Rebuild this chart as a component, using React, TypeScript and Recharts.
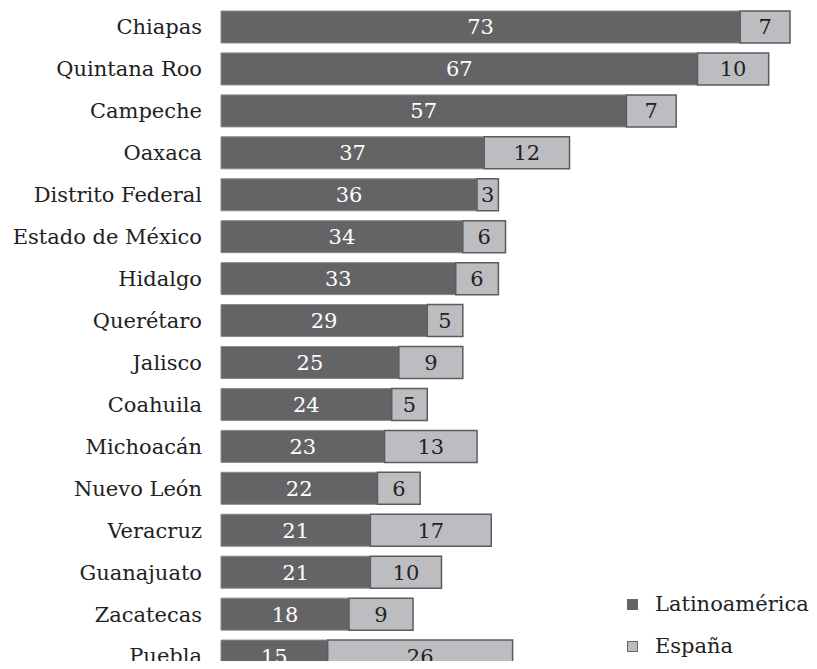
import React from "react";
import { BarChart, Bar, XAxis, YAxis, LabelList } from "recharts";

const states = [
  "Chiapas",
  "Quintana Roo",
  "Campeche",
  "Oaxaca",
  "Distrito Federal",
  "Estado de México",
  "Hidalgo",
  "Querétaro",
  "Jalisco",
  "Coahuila",
  "Michoacán",
  "Nuevo León",
  "Veracruz",
  "Guanajuato",
  "Zacatecas",
  "Puebla",
];
const latinoamerica = [73, 67, 57, 37, 36, 34, 33, 29, 25, 24, 23, 22, 21, 21, 18, 15];
const espana = [7, 10, 7, 12, 3, 6, 6, 5, 9, 5, 13, 6, 17, 10, 9, 26];

const data = states.map((name, i) => ({
  name,
  latam: latinoamerica[i],
  esp: espana[i],
}));

const DARK = "#646466";
const LIGHT = "#bdbdc1";
const FONT = "'DejaVu Serif', serif";
const FS = 21;

const legendItems = [
  { label: "Latinoamérica", fill: DARK },
  { label: "España", fill: LIGHT },
];

export default function App() {
  return (
    <div
      style={{
        margin: -8,
        width: 817,
        height: 669,
        overflow: "hidden",
        background: "#fff",
        position: "relative",
      }}
    >
      <BarChart
        width={817}
        height={677}
        data={data}
        layout="vertical"
        margin={{ top: 6, right: 27, left: 0, bottom: 0 }}
        barSize={32}
      >
        <XAxis type="number" domain={[0, 80]} hide />
        <YAxis
          type="category"
          dataKey="name"
          width={221}
          axisLine={false}
          tickLine={false}
          tickSize={0}
          tickMargin={19}
          interval={0}
          tick={{ fill: "#222", fontSize: FS, fontFamily: FONT }}
        />
        <Bar dataKey="latam" stackId="a" fill={DARK} stroke="#8a8a8c" strokeWidth={1} isAnimationActive={false}>
          <LabelList dataKey="latam" position="center" fill="#fff" fontSize={FS} fontFamily={FONT} />
        </Bar>
        <Bar dataKey="esp" stackId="a" fill={LIGHT} stroke="#5c5c5e" strokeWidth={1.5} isAnimationActive={false}>
          <LabelList dataKey="esp" position="center" fill="#222" fontSize={FS} fontFamily={FONT} />
        </Bar>
      </BarChart>
      <div
        style={{
          position: "absolute",
          left: 627,
          top: 583,
          fontFamily: FONT,
          fontSize: FS,
          color: "#222",
        }}
      >
        {legendItems.map((it) => (
          <div key={it.label} style={{ display: "flex", alignItems: "center", height: 42 }}>
            <span
              style={{
                width: 9,
                height: 9,
                background: it.fill,
                border: "1px solid #666",
                marginRight: 17,
                display: "inline-block",
              }}
            />
            {it.label}
          </div>
        ))}
      </div>
    </div>
  );
}
